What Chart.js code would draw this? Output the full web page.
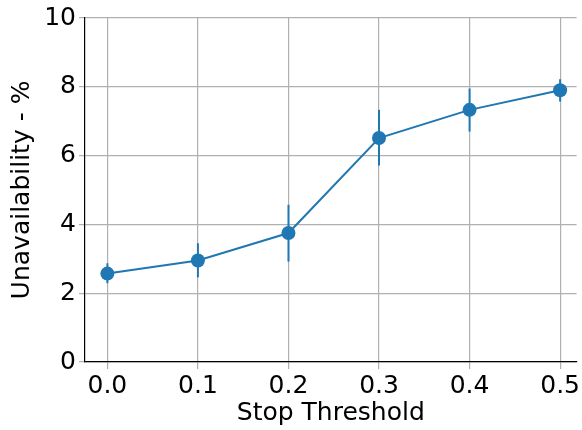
<!DOCTYPE html>
<html>
<head>
<meta charset="utf-8">
<script src="https://cdn.jsdelivr.net/npm/chart.js@4"></script>
<style>
  html, body { margin: 0; padding: 0; background: #fff; }
  #wrap { width: 582px; height: 430px; }
</style>
</head>
<body>
<div id="wrap"><canvas id="chart" width="582" height="430"></canvas></div>
<script>
// Data
const thresholds = [0.0, 0.1, 0.2, 0.3, 0.4, 0.5];
const unavailability = [2.57, 2.95, 3.75, 6.51, 7.33, 7.90];
const errorLow = [2.29, 2.46, 2.92, 5.71, 6.70, 7.57];
const errorHigh = [2.87, 3.45, 4.57, 7.33, 7.95, 8.22];
const yTicks = [0, 2, 4, 6, 8, 10];

const blue = "#1f77b4";
const gridGray = "#b0b0b0";

// Error bars drawn through the chart's own scales
const errorBars = {
  id: "errorBars",
  beforeDatasetsDraw(chart) {
    const { ctx, scales: { x, y } } = chart;
    ctx.save();
    ctx.strokeStyle = blue;
    ctx.lineWidth = 2;
    thresholds.forEach((t, i) => {
      const px = x.getPixelForValue(t);
      ctx.beginPath();
      ctx.moveTo(px, y.getPixelForValue(errorLow[i]));
      ctx.lineTo(px, y.getPixelForValue(errorHigh[i]));
      ctx.stroke();
    });
    ctx.restore();
  }
};

const font = { family: "'DejaVu Sans'", size: 25 };

new Chart(document.getElementById("chart"), {
  type: "line",
  data: {
    datasets: [{
      data: thresholds.map((t, i) => ({ x: t, y: unavailability[i] })),
      borderColor: blue,
      backgroundColor: blue,
      borderWidth: 2,
      pointRadius: 7,
      pointHoverRadius: 7,
      pointBorderWidth: 0,
      tension: 0,
      clip: false
    }]
  },
  options: {
    responsive: false,
    animation: false,
    layout: { autoPadding: false, padding: { top: 18, right: 0, left: 0, bottom: 0 } },
    plugins: { legend: { display: false }, tooltip: { enabled: false } },
    scales: {
      x: {
        type: "linear",
        min: -0.0247,
        max: 0.5182,
        afterFit: s => { s.height = 68; },
        ticks: {
          stepSize: 0.1,
          includeBounds: false,
          color: "#000",
          font: font,
          padding: 2,
          maxRotation: 0,
          callback: v => v.toFixed(1)
        },
        grid: { color: gridGray, lineWidth: 1.2, tickColor: gridGray, tickLength: 7, tickWidth: 1.2 },
        border: { color: "#000", width: 1.2 },
        title: { display: true, text: "Stop Threshold", color: "#000", font: font, padding: { top: 0, bottom: 2 } }
      },
      y: {
        min: 0,
        max: 10,
        afterFit: s => { s.width = 85; },
        afterBuildTicks: s => { s.ticks = yTicks.map(v => ({ value: v })); },
        ticks: { color: "#000", font: font, padding: 3 },
        grid: { color: gridGray, lineWidth: 1.2, tickColor: gridGray, tickLength: 6, tickWidth: 1.2 },
        border: { color: "#000", width: 1.2 },
        title: { display: true, text: "Unavailability - %", color: "#000", font: font, padding: { top: 7, bottom: 0 } }
      }
    }
  },
  plugins: [errorBars]
});
</script>
</body>
</html>
